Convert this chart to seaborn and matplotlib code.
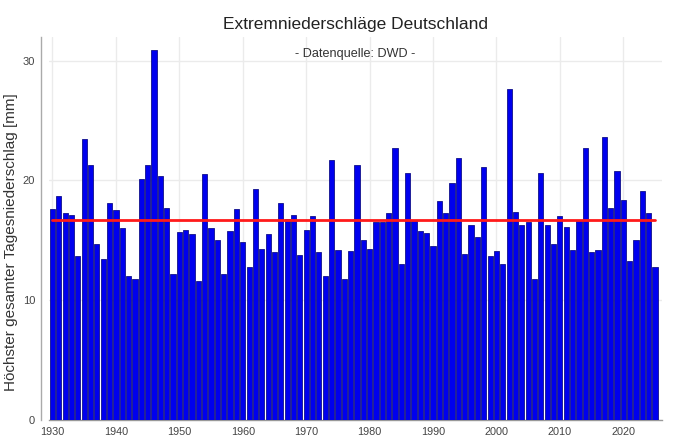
import numpy as np
import pandas as pd
import matplotlib
matplotlib.use("Agg")
import matplotlib.pyplot as plt
import seaborn as sns

years = list(range(1930, 2026))
values = [
    17.6, 18.7, 17.3, 17.1, 13.7, 23.5, 21.3, 14.7, 13.4, 18.1,
    17.5, 16.0, 12.0, 11.8, 20.1, 21.3, 30.9, 20.4, 17.7, 12.2,
    15.7, 15.9, 15.5, 11.6, 20.5, 16.0, 15.0, 12.2, 15.8, 17.6,
    14.9, 12.8, 19.3, 14.3, 15.5, 14.0, 18.1, 16.8, 17.1, 13.8,
    15.9, 17.0, 14.0, 12.0, 21.7, 14.2, 11.8, 14.1, 21.3, 15.0,
    14.3, 16.5, 16.5, 17.3, 22.7, 13.0, 20.6, 16.6, 15.8, 15.6,
    14.5, 18.3, 17.3, 19.8, 21.9, 13.9, 16.3, 15.3, 21.1, 13.7,
    14.1, 13.0, 27.6, 17.4, 16.3, 16.5, 11.8, 20.6, 16.3, 14.7,
    17.0, 16.1, 14.2, 16.7, 22.7, 14.0, 14.2, 23.6, 17.7, 20.8,
    18.4, 13.3, 15.0, 19.1, 17.3, 12.8,
]
title = "Extremniederschläge Deutschland"
subtitle = "- Datenquelle: DWD -"
ylabel = "Höchster gesamter Tagesniederschlag [mm]"
xticks = list(range(1930, 2030, 10))
yticks = [0, 10, 20, 30]

df = pd.DataFrame({"Jahr": years, "Wert": values})
mean_val = float(np.mean(values))

sns.set_theme(style="white")
plt.rcParams["font.family"] = ["Liberation Sans", "DejaVu Sans"]

fig = plt.figure(figsize=(6.8, 4.48), dpi=100)
W, H = 680, 448
ax_l, ax_r, ax_t, ax_b = 49, 662, 36.7, 420
ax = fig.add_axes([ax_l / W, 1 - ax_b / H, (ax_r - ax_l) / W, (ax_b - ax_t) / H])

sns.barplot(data=df, x="Jahr", y="Wert", native_scale=True, width=0.82,
            color="#0000ee", saturation=1, edgecolor="#10108a", linewidth=0.6,
            ax=ax, zorder=3)
for p in ax.patches:
    p.set_facecolor("#0000ee")

ax.plot([years[0], years[-1]], [mean_val, mean_val], color="#ff1a1a", lw=2, zorder=4)

ax.set_xlim(1929.45, 2026.1)
ax.set_ylim(0, 32)
ax.set_xticks(xticks)
ax.set_xticklabels([str(t) for t in xticks])
ax.set_yticks(yticks)
ax.set_yticklabels([str(t) for t in yticks])

ax.grid(True, color="#ebebeb", lw=1, zorder=0)
ax.set_axisbelow(True)

for s in ["top", "right"]:
    ax.spines[s].set_visible(False)
ax.spines["left"].set_position(("outward", 6))
ax.spines["left"].set_color("#aaaaaa")
ax.spines["left"].set_bounds(0, 32)
ax.spines["bottom"].set_color("#999999")
ax.spines["left"].set_linewidth(1)
ax.spines["bottom"].set_linewidth(1)

ax.tick_params(axis="y", direction="in", length=6, width=1, color="#aaaaaa",
               labelsize=8, labelcolor="#444444", pad=4)
ax.tick_params(axis="x", length=0, labelsize=7.8, labelcolor="#444444", pad=5)

ax.set_xlabel("")
ax.set_ylabel(ylabel, fontsize=11, color="#333333")
ax.yaxis.set_label_coords((18 - ax_l) / (ax_r - ax_l), (ax_b - 242) / (ax_b - ax_t))

fig.text((ax_l + ax_r) / 2 / W, 1 - 24 / H, title, ha="center", va="center",
         fontsize=12.5, color="#222222")
ax.text(0.5, 1 - (54 - ax_t) / (ax_b - ax_t), subtitle, transform=ax.transAxes,
        ha="center", va="center", fontsize=9.1, color="#333333")

fig.savefig("out.png", dpi=100)
